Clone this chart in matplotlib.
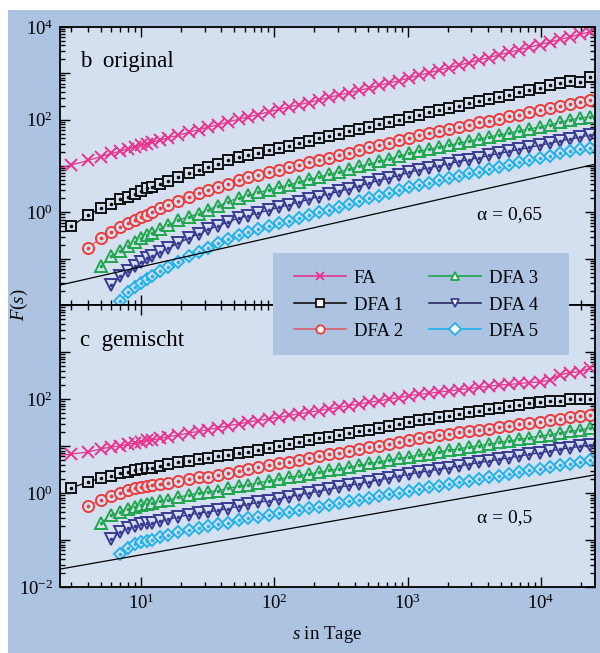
import numpy as np
import matplotlib.pyplot as plt
from matplotlib.lines import Line2D
from matplotlib.patches import Rectangle
from matplotlib.ticker import LogLocator, NullFormatter

plt.rcParams['font.family'] = ['Liberation Serif', 'DejaVu Serif']
plt.rcParams['mathtext.fontset'] = 'custom'
plt.rcParams['mathtext.rm'] = 'Liberation Serif'
plt.rcParams['mathtext.it'] = 'Liberation Serif:italic'

# window sizes s (days)
s = [2, 3, 4, 5, 6, 7, 8, 9, 10, 11, 12, 14, 16, 19, 23, 27, 32, 38, 45, 54,
     64, 76, 91, 108, 128, 152, 181, 215, 256, 304, 362, 431, 512, 609, 724, 861,
     1024, 1218, 1448, 1722, 2048, 2435, 2896, 3444, 4096, 4871, 5793, 6889,
     8192, 9742, 11585, 13777, 16384, 19484, 23170]

# log10 F(s), panel b (original); series n starts at s index n
fa_b = [0.88, 1.02, 1.12, 1.20, 1.27, 1.32, 1.37, 1.41, 1.45, 1.48, 1.51, 1.56,
        1.61, 1.66, 1.73, 1.78, 1.84, 1.89, 1.95, 2.01, 2.06, 2.11, 2.17, 2.22, 2.27,
        2.32, 2.37, 2.42, 2.48, 2.53, 2.58, 2.63, 2.68, 2.74, 2.79, 2.84, 2.90, 2.96,
        3.01, 3.07, 3.12, 3.18, 3.23, 3.29, 3.34, 3.40, 3.45, 3.51, 3.56, 3.62, 3.67,
        3.73, 3.78, 3.84, 3.89]
dfa1_b = [-0.30, -0.06, 0.09, 0.18, 0.28, 0.33, 0.39, 0.46, 0.52, 0.55, 0.61,
          0.68, 0.76, 0.85, 0.91, 0.98, 1.05, 1.12, 1.19, 1.24, 1.29, 1.34, 1.39, 1.44,
          1.49, 1.55, 1.60, 1.65, 1.70, 1.75, 1.80, 1.85, 1.90, 1.95, 2.00, 2.05, 2.11,
          2.16, 2.20, 2.25, 2.30, 2.35, 2.40, 2.44, 2.49, 2.54, 2.59, 2.63, 2.68, 2.74,
          2.79, 2.84, 2.82, 2.93]
dfa2_b = [-0.77, -0.56, -0.43, -0.32, -0.23, -0.17, -0.10, -0.05, 0.01, 0.09,
          0.16, 0.24, 0.33, 0.41, 0.48, 0.55, 0.62, 0.70, 0.76, 0.81, 0.87, 0.92, 0.97,
          1.03, 1.08, 1.13, 1.18, 1.24, 1.29, 1.34, 1.40, 1.45, 1.50, 1.56, 1.61, 1.67,
          1.71, 1.76, 1.80, 1.85, 1.89, 1.94, 1.98, 2.02, 2.07, 2.11, 2.16, 2.20, 2.25,
          2.29, 2.33, 2.38, 2.42]
dfa3_b = [-1.16, -0.95, -0.84, -0.73, -0.64, -0.56, -0.49, -0.45, -0.36,
          -0.28, -0.17, -0.09, -0.03, 0.06, 0.14, 0.23, 0.31, 0.37, 0.43, 0.48, 0.54,
          0.59, 0.65, 0.71, 0.76, 0.82, 0.87, 0.93, 0.99, 1.04, 1.10, 1.15, 1.21, 1.27,
          1.32, 1.36, 1.41, 1.45, 1.49, 1.54, 1.58, 1.63, 1.67, 1.71, 1.76, 1.80, 1.84,
          1.89, 1.94, 1.99, 2.04, 2.06]
dfa4_b = [-1.57, -1.38, -1.27, -1.16, -1.08, -0.99, -0.94, -0.85, -0.77,
          -0.67, -0.55, -0.46, -0.37, -0.29, -0.21, -0.12, -0.07, -0.01, 0.05, 0.11,
          0.16, 0.22, 0.28, 0.34, 0.40, 0.45, 0.51, 0.57, 0.63, 0.69, 0.74, 0.80, 0.86,
          0.92, 0.96, 1.01, 1.05, 1.10, 1.14, 1.18, 1.23, 1.27, 1.32, 1.36, 1.40, 1.45,
          1.49, 1.54, 1.58, 1.62, 1.67]
dfa5_b = [-1.92, -1.72, -1.62, -1.53, -1.44, -1.38, -1.27, -1.19, -1.08,
          -0.95, -0.86, -0.76, -0.67, -0.58, -0.49, -0.42, -0.36, -0.30, -0.24, -0.18,
          -0.12, -0.06, 0.00, 0.06, 0.12, 0.18, 0.24, 0.30, 0.36, 0.42, 0.48, 0.54,
          0.60, 0.64, 0.69, 0.74, 0.79, 0.84, 0.88, 0.93, 0.98, 1.03, 1.08, 1.12, 1.17,
          1.22, 1.27, 1.32, 1.36, 1.39]

# log10 F(s), panel c (gemischt)
fa_c = [0.77, 0.83, 0.87, 0.94, 0.98, 1.00, 1.04, 1.06, 1.09, 1.12, 1.13, 1.16,
        1.20, 1.23, 1.28, 1.31, 1.35, 1.39, 1.43, 1.47, 1.51, 1.54, 1.58, 1.61, 1.65,
        1.68, 1.72, 1.75, 1.79, 1.82, 1.86, 1.89, 1.93, 1.96, 2.00, 2.03, 2.07, 2.10,
        2.12, 2.15, 2.17, 2.20, 2.22, 2.25, 2.27, 2.30, 2.31, 2.33, 2.35, 2.36, 2.40,
        2.51, 2.56, 2.58, 2.65]
dfa1_c = [0.11, 0.23, 0.32, 0.36, 0.43, 0.45, 0.49, 0.51, 0.53, 0.54, 0.58,
          0.61, 0.66, 0.69, 0.73, 0.75, 0.78, 0.81, 0.85, 0.88, 0.92, 0.96, 1.00, 1.04,
          1.08, 1.12, 1.16, 1.20, 1.24, 1.28, 1.32, 1.35, 1.39, 1.43, 1.47, 1.51, 1.55,
          1.58, 1.61, 1.64, 1.68, 1.73, 1.75, 1.79, 1.81, 1.85, 1.88, 1.91, 1.94, 1.96,
          1.96, 2.00, 1.99, 2.00]
dfa2_c = [-0.28, -0.15, -0.06, 0.00, 0.06, 0.10, 0.13, 0.15, 0.16, 0.20, 0.22,
          0.26, 0.30, 0.33, 0.35, 0.38, 0.42, 0.47, 0.51, 0.55, 0.59, 0.63, 0.67, 0.70,
          0.74, 0.78, 0.82, 0.86, 0.90, 0.94, 0.97, 1.01, 1.05, 1.09, 1.13, 1.17, 1.20,
          1.23, 1.26, 1.29, 1.32, 1.34, 1.37, 1.40, 1.43, 1.46, 1.49, 1.52, 1.55, 1.58,
          1.61, 1.63, 1.66]
dfa3_c = [-0.64, -0.47, -0.40, -0.34, -0.30, -0.26, -0.23, -0.22, -0.18,
          -0.15, -0.09, -0.04, 0.00, 0.03, 0.05, 0.10, 0.14, 0.18, 0.22, 0.26, 0.29,
          0.33, 0.37, 0.40, 0.44, 0.48, 0.51, 0.55, 0.59, 0.63, 0.66, 0.70, 0.74, 0.77,
          0.81, 0.84, 0.88, 0.91, 0.94, 0.98, 1.01, 1.04, 1.08, 1.11, 1.14, 1.18, 1.21,
          1.24, 1.28, 1.31, 1.34, 1.38]
dfa4_c = [-0.98, -0.83, -0.74, -0.70, -0.66, -0.64, -0.63, -0.59, -0.56,
          -0.51, -0.46, -0.43, -0.40, -0.37, -0.33, -0.28, -0.24, -0.20, -0.16, -0.12,
          -0.08, -0.04, 0.00, 0.04, 0.08, 0.12, 0.16, 0.20, 0.24, 0.28, 0.32, 0.36,
          0.40, 0.44, 0.47, 0.51, 0.54, 0.58, 0.61, 0.65, 0.68, 0.72, 0.75, 0.79, 0.82,
          0.86, 0.89, 0.93, 0.96, 0.99, 1.02]
dfa5_c = [-1.30, -1.17, -1.09, -1.04, -1.02, -0.99, -0.94, -0.89, -0.83,
          -0.78, -0.75, -0.71, -0.67, -0.63, -0.58, -0.54, -0.51, -0.47, -0.43, -0.40,
          -0.36, -0.32, -0.29, -0.25, -0.21, -0.17, -0.14, -0.10, -0.06, -0.03, 0.01,
          0.05, 0.08, 0.12, 0.15, 0.19, 0.23, 0.26, 0.30, 0.33, 0.37, 0.41, 0.44, 0.48,
          0.51, 0.55, 0.59, 0.62, 0.66, 0.70]

# reference slopes: (alpha, log10 prefactor)
alpha_b = (0.65, -1.825)
alpha_c = (0.5, -1.816)

names = ['FA', 'DFA 1', 'DFA 2', 'DFA 3', 'DFA 4', 'DFA 5']
colors = ['#e8328c', '#111111', '#f03a3a', '#1fa64c', '#3a3a92', '#22b2ea']
line_colors = ['#e8328c', '#111111', '#d9606a', '#1fa64c', '#2a2a60', '#22b2ea']
markers = ['x', 's', 'o', '^', 'v', 'D']
msizes = [8, 7, 8, 8, 8, 6.5]

outer = '#adc3e2'
inner = '#d4e0f0'

fig = plt.figure(figsize=(6, 6.53), dpi=100)
fig.patches.append(Rectangle((8 / 600, 0), 592 / 600, 643 / 653, transform=fig.transFigure,
                             facecolor=outer, edgecolor='none', zorder=-1))

ax1 = fig.add_axes([0.1, 0.5329, 0.8917, 0.4258])
ax2 = fig.add_axes([0.1, 0.1011, 0.8917, 0.4318])

panels = [
    (ax1, [fa_b, dfa1_b, dfa2_b, dfa3_b, dfa4_b, dfa5_b], alpha_b, 'b  original',
     'α = 0,65', [0, 2, 4], 0.324),
    (ax2, [fa_c, dfa1_c, dfa2_c, dfa3_c, dfa4_c, dfa5_c], alpha_c, 'c  gemischt',
     'α = 0,5', [-2, 0, 2], 0.245),
]

for ax, series, (a, c), title, atext, ylab, ay in panels:
    ax.set_facecolor(inner)
    ax.set_xscale('log')
    ax.set_yscale('log')
    ax.set_xlim(2.47, 25400)
    ax.set_ylim(1e-2, 1e4)

    for n, vals in enumerate(series):
        x = s[n:]
        y = 10 ** np.array(vals)
        ax.plot(x, y, color=line_colors[n], lw=0.9, marker=markers[n], ms=msizes[n],
                mfc=inner, mec=colors[n], mew=1.4)
        if n > 0:
            ax.plot(x, y, ls='none', marker='o', ms=1.6, color=colors[n])

    xs = np.array(ax.get_xlim())
    ax.plot(xs, 10 ** c * xs ** a, color='black', lw=0.9)

    ax.text(0.037, 0.875, title, transform=ax.transAxes, fontsize=16.5, va='center')
    ax.text(0.78, ay, atext, transform=ax.transAxes, fontsize=14, va='center')

    yt = [10.0 ** k for k in range(-2, 5)]
    ax.set_yticks(yt, [r'$10^{%d}$' % k if k in ylab else '' for k in range(-2, 5)])
    ax.yaxis.set_minor_locator(LogLocator(base=10, subs=np.arange(2, 10), numticks=20))
    ax.yaxis.set_minor_formatter(NullFormatter())
    ax.set_xticks([10, 100, 1000, 10000])
    ax.xaxis.set_minor_locator(LogLocator(base=10, subs=np.arange(2, 10), numticks=20))
    ax.xaxis.set_minor_formatter(NullFormatter())
    ax.tick_params(which='both', direction='in', top=True, right=True, width=1,
                   labelsize=13.5, pad=5)
    ax.tick_params(which='major', length=7)
    ax.tick_params(which='minor', length=3.5)
    for sp in ax.spines.values():
        sp.set_linewidth(1.3)

ax2.set_xticks([10, 100, 1000, 10000], [r'$10^{1}$', r'$10^{2}$', r'$10^{3}$', r'$10^{4}$'])
ax1.set_xticklabels([])

fig.text(0.033, 0.533, r'$F(s)$', rotation=90, fontsize=13.5, ha='center', va='center')
fig.text(0.545, 0.028, r'$s$ in Tage', fontsize=13.5, ha='center', va='center')

# legend box spanning both panels
fig.patches.append(Rectangle((273 / 600, 1 - 355 / 653), 296 / 600, 102 / 653,
                             transform=fig.transFigure, facecolor=outer,
                             edgecolor='none', zorder=4))
handles = [Line2D([], [], color=line_colors[n], lw=1.2, marker=markers[n], ms=6,
                  mfc=outer if n == 0 else 'white', mec=colors[n], mew=1.3)
           for n in range(6)]
fig.legend(handles, names, ncol=2, loc='center', bbox_to_anchor=(0.693, 0.533),
           fontsize=13.5, frameon=False, handlelength=2.8, labelspacing=0.5,
           columnspacing=1.4, borderpad=0.2, handletextpad=0.4)

fig.savefig('out.png', dpi=100)
